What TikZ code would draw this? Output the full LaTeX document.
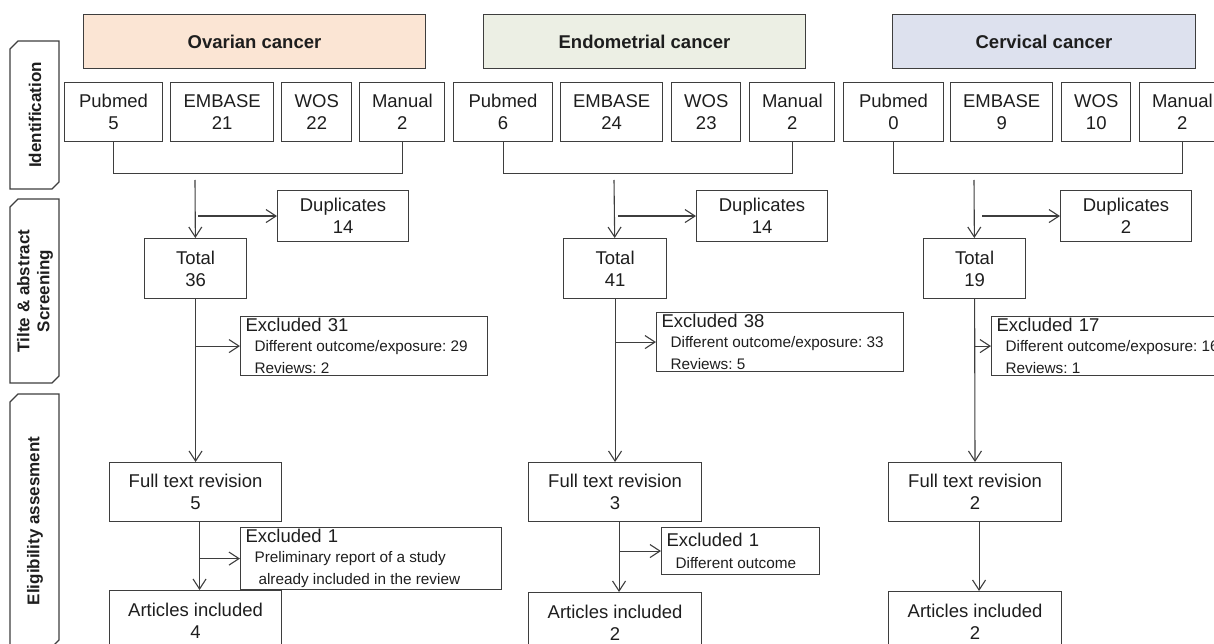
\documentclass[tikz,border=0pt]{standalone}
\usepackage{fontspec}
\setmainfont{Liberation Sans}
\usepackage{tikz}
\usetikzlibrary{arrows.meta,positioning}
\definecolor{linegray}{RGB}{62,62,62}
\definecolor{textgray}{RGB}{30,30,30}
\definecolor{peach}{RGB}{251,229,212}
\definecolor{sage}{RGB}{236,239,228}
\definecolor{lavender}{RGB}{221,225,238}
\newcommand{\mainsize}{\fontsize{18.5}{22}\selectfont}
\newcommand{\subsize}{\fontsize{15.3}{19.5}\selectfont\spaceskip=0pt\xspaceskip=0pt\frenchspacing}
\tikzset{
  titlebox/.style={draw=linegray, line width=1pt, anchor=north west,
    minimum height=54pt, font=\mainsize\bfseries, text=textgray},
  srcbox/.style={draw=linegray, line width=1.1pt, minimum height=59pt,
    align=center, font=\mainsize, text=textgray, inner sep=2pt},
  stepbox/.style={draw=linegray, line width=1.1pt, anchor=north west,
    align=center, font=\mainsize, text=textgray, inner sep=2pt},
  exclbox/.style={draw=linegray, line width=1.1pt, anchor=north west,
    align=left, font=\mainsize, text=textgray, inner xsep=5pt, inner ysep=2pt},
  tabline/.style={draw=linegray, line width=1.1pt},
  tablabel/.style={rotate=90, align=center,
    font=\fontsize{17}{20}\selectfont\bfseries, text=textgray},
  link/.style={draw=linegray, line width=1.1pt},
  flow/.style={-{Straight Barb[length=10pt,width=13pt]}, draw=linegray, line width=1.1pt}
}

\begin{document}
\begin{tikzpicture}[x=1pt, y=-1pt]
\useasboundingbox (0,0) rectangle (1214,644);
\clip (0,0) rectangle (1214,644);

% stage tabs
\draw[tabline] (10,49) -- (18,41) -- (59,41) -- (59,182) -- (52,189) -- (10,189) -- cycle;
\node[tablabel] (tabid) at (35,115) {Identification};
\draw[tabline] (10,207) -- (18,199) -- (59,199) -- (59,376) -- (52,383) -- (10,383) -- cycle;
\node[tablabel] (tabts) at (35,291) {Tilte \& abstract\\Screening};
\draw[tabline] (10,402) -- (18,394) -- (59,394) -- (59,640) -- (52,647) -- (10,647) -- cycle;
\node[tablabel] (tabel) at (35,521) {Eligibility assesment};

% ovarian
\node[titlebox, fill=peach, minimum width=342pt] (ovtitle) at (83,14) {Ovarian cancer};
\node[srcbox, anchor=north west, minimum width=98pt] (ovpub) at (64,82) {Pubmed\\5};
\node[srcbox, minimum width=103pt, right=7pt of ovpub] (ovemb) {EMBASE\\21};
\node[srcbox, minimum width=70pt, right=7pt of ovemb] (ovwos) {WOS\\22};
\node[srcbox, minimum width=85pt, right=7pt of ovwos] (ovman) {Manual\\2};
\node[stepbox, minimum width=131pt, minimum height=51pt] (ovdup) at (277,190) {Duplicates\\14};
\node[stepbox, minimum width=102pt, minimum height=60pt] (ovtot) at (144,238) {Total\\36};
\node[exclbox, text width=237pt, minimum height=59pt] (ovex1) at (240,316)
  {Excluded 31\\\subsize\hspace*{9pt}Different outcome/exposure: 29\\\hspace*{9pt}Reviews: 2};
\node[stepbox, minimum width=172pt, minimum height=59pt] (ovft) at (109,462) {Full text revision\\5};
\node[exclbox, text width=251pt, minimum height=57pt] (ovex2) at (240,527)
  {Excluded 1\\\subsize\hspace*{9pt}Preliminary report of a study\\\hspace*{13pt}already included in the review};
\node[stepbox, minimum width=172pt, minimum height=60pt] (ovart) at (109,590) {Articles included\\4};

% endometrial
\node[titlebox, fill=sage, minimum width=322pt] (entitle) at (483,14) {Endometrial cancer};
\node[srcbox, anchor=north west, minimum width=99pt] (enpub) at (453,82) {Pubmed\\6};
\node[srcbox, minimum width=102pt, right=7pt of enpub] (enemb) {EMBASE\\24};
\node[srcbox, minimum width=69pt, right=8pt of enemb] (enwos) {WOS\\23};
\node[srcbox, minimum width=85pt, right=8pt of enwos] (enman) {Manual\\2};
\node[stepbox, minimum width=131pt, minimum height=51pt] (endup) at (696,190) {Duplicates\\14};
\node[stepbox, minimum width=103pt, minimum height=60pt] (entot) at (563,238) {Total\\41};
\node[exclbox, text width=237pt, minimum height=59pt] (enex1) at (656,312)
  {Excluded 38\\\subsize\hspace*{9pt}Different outcome/exposure: 33\\\hspace*{9pt}Reviews: 5};
\node[stepbox, minimum width=173pt, minimum height=59pt] (enft) at (528,462) {Full text revision\\3};
\node[exclbox, text width=148pt, minimum height=47pt] (enex2) at (661,527)
  {Excluded 1\\\subsize\hspace*{9pt}Different outcome};
\node[stepbox, minimum width=173pt, minimum height=60pt] (enart) at (528,592) {Articles included\\2};

% cervical
\node[titlebox, fill=lavender, minimum width=303pt] (cvtitle) at (892,14) {Cervical cancer};
\node[srcbox, anchor=north west, minimum width=100pt] (cvpub) at (843,82) {Pubmed\\0};
\node[srcbox, minimum width=102pt, right=6pt of cvpub] (cvemb) {EMBASE\\9};
\node[srcbox, minimum width=69pt, right=8pt of cvemb] (cvwos) {WOS\\10};
\node[srcbox, minimum width=85pt, right=8pt of cvwos] (cvman) {Manual\\2};
\node[stepbox, minimum width=131pt, minimum height=51pt] (cvdup) at (1060,190) {Duplicates\\2};
\node[stepbox, minimum width=102pt, minimum height=60pt] (cvtot) at (923,238) {Total\\19};
\node[exclbox, text width=237pt, minimum height=59pt] (cvex1) at (991,316)
  {Excluded 17\\\subsize\hspace*{9pt}Different outcome/exposure: 16\\\hspace*{9pt}Reviews: 1};
\node[stepbox, minimum width=173pt, minimum height=59pt] (cvft) at (888,462) {Full text revision\\2};
\node[stepbox, minimum width=173pt, minimum height=60pt] (cvart) at (888,591) {Articles included\\2};

% connectors
\draw[link] (ovpub.south) -- ++(0,31) -| (ovman.south);
\coordinate (ovin) at (195,180);
\draw[flow] (ovin) -- (ovtot);
\draw[flow] (ovin |- ovdup.west) ++(3,0) -- (ovdup.west);
\draw[flow] (ovtot.south |- ovex1.west) -- (ovex1.west);
\draw[flow] (ovtot) -- (ovft);
\coordinate (ovlow) at ([xshift=4pt]ovft.south);
\draw[flow] (ovlow) -- (ovlow |- ovart.north);
\draw[flow] (ovlow |- ovex2.west) -- (ovex2.west);

\draw[link] (enpub.south) -- ++(0,31) -| (enman.south);
\coordinate (enin) at (614,180);
\draw[flow] (enin) -- (entot);
\draw[flow] (enin |- endup.west) ++(4,0) -- (endup.west);
\draw[flow] (entot.south |- enex1.west) -- (enex1.west);
\draw[flow] (entot) -- (enft);
\coordinate (enlow) at ([xshift=4pt]enft.south);
\draw[flow] (enlow) -- (enlow |- enart.north);
\draw[flow] (enlow |- enex2.west) -- (enex2.west);

\draw[link] (cvpub.south) -- ++(0,31) -| (cvman.south);
\coordinate (cvin) at (974,180);
\draw[flow] (cvin) -- (cvtot);
\draw[flow] (cvin |- cvdup.west) ++(8,0) -- (cvdup.west);
\draw[flow] (cvtot.south |- cvex1.west) -- (cvex1.west);
\draw[flow] (cvtot) -- (cvft);
\coordinate (cvlow) at ([xshift=4pt]cvft.south);
\draw[flow] (cvlow) -- (cvlow |- cvart.north);
\end{tikzpicture}
\end{document}
